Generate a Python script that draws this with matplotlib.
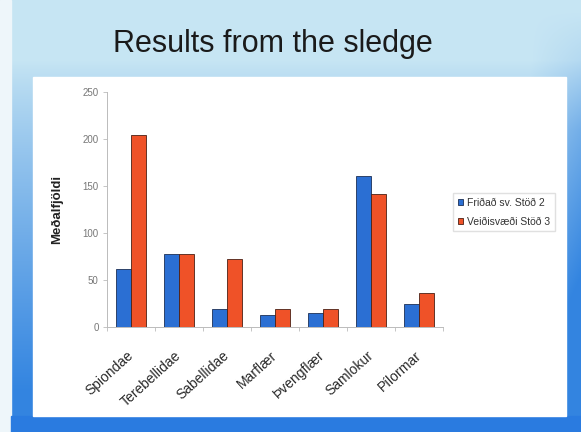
import numpy as np
import matplotlib.pyplot as plt
import matplotlib.transforms as mtransforms
from matplotlib.patches import Rectangle

categories = ['Spiondae', 'Terebellidae', 'Sabellidae', 'Marflær', 'Þvengflær', 'Samlokur', 'Pílormar']
stod2 = [62, 78, 19, 13, 15, 161, 25]
stod3 = [204, 78, 72, 19, 19, 142, 36]
series_names = ['Friðað sv. Stöð 2', 'Veiðisvæði Stöð 3']

plt.rcParams['font.family'] = ['Liberation Sans', 'DejaVu Sans']

W, H = 581, 432
fig = plt.figure(figsize=(W / 100, H / 100), dpi=100)

# slide background: pale blue on top, getting deeper blue towards the bottom
bg = fig.add_axes([0, 0, 1, 1])
bg.set_xlim(0, W)
bg.set_ylim(H, 0)
bg.axis('off')
ypx = np.arange(H)[:, None]
xpx = np.arange(W)[None, :]
light = np.array([0.78, 0.90, 0.955])
deep = np.array([0.20, 0.52, 0.88])
t = np.clip((ypx - 60) / 330, 0, 1) ** 0.85
t = t + 0.3 * np.clip((xpx - 530) / 50, 0, 1) * np.clip((ypx - 10) / 120, 0, 1)
t = np.clip(t, 0, 1)
img = light[None, None, :] * (1 - t[..., None]) + deep[None, None, :] * t[..., None]
bg.imshow(img, extent=[0, W, H, 0], aspect='auto')
bg.add_patch(Rectangle((0, 0), 11, H, color='#eef6fa'))
bg.add_patch(Rectangle((11, 416), W, 16, color='#2a7be0'))
bg.add_patch(Rectangle((33, 77), 533, 339, color='white'))
bg.text(273, 44, 'Results from the sledge', ha='center', va='center',
        fontsize=22, color='#1a1a1a')

ax = fig.add_axes([107 / W, 1 - 327 / H, 336 / W, 235 / H])
x = np.arange(len(categories))
bw = 0.31
ax.bar(x - bw / 2, stod2, bw, color='#2b6fd3', edgecolor='#1c2f55', linewidth=0.6,
       label=series_names[0])
ax.bar(x + bw / 2, stod3, bw, color='#ef5228', edgecolor='#4a2015', linewidth=0.6,
       label=series_names[1])

ax.set_xlim(-0.5, len(categories) - 0.5)
ax.set_ylim(0, 250)
ax.set_yticks(range(0, 251, 50))
ax.set_xticks(x)
ax.set_xticks(np.arange(-0.5, len(categories), 1), minor=True)
ax.set_xticklabels(categories, rotation=42, ha='right', va='center',
                   rotation_mode='anchor', fontsize=10, color='#2a2a2a')
# nudge the rotated labels so their ends sit just left of each group
shift = mtransforms.ScaledTranslation(-6 / 100, 0, fig.dpi_scale_trans)
for lab in ax.get_xticklabels():
    lab.set_transform(lab.get_transform() + shift)
ax.tick_params(axis='y', labelsize=7, colors='#bbbbbb', labelcolor='#777777',
               length=3, width=0.6, pad=3)
ax.tick_params(axis='x', which='major', length=0, pad=19)
ax.tick_params(axis='x', which='minor', length=3, width=0.6, color='#bbbbbb')
for sp in ['top', 'right']:
    ax.spines[sp].set_visible(False)
for sp in ['left', 'bottom']:
    ax.spines[sp].set_color('#bbbbbb')
    ax.spines[sp].set_linewidth(0.7)
ax.set_facecolor('none')
ax.set_ylabel('Meðalfjöldi', fontsize=9.5, fontweight='bold', color='#222222', labelpad=14)

fig.legend(loc='upper left', bbox_to_anchor=(453 / W, 1 - 193 / H), fontsize=7.5,
           frameon=True, fancybox=False, edgecolor='#e0e0e0', framealpha=1,
           handlelength=0.55, handleheight=0.55, handletextpad=0.35,
           borderpad=0.45, borderaxespad=0, labelspacing=0.85, labelcolor='#333333')

fig.savefig('out.png', dpi=100)
